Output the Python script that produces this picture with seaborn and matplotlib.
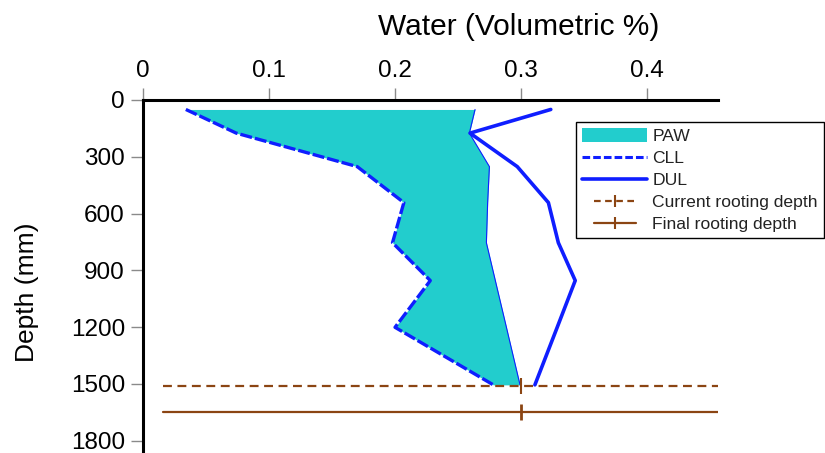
import matplotlib
matplotlib.use("Agg")
import matplotlib.pyplot as plt
from matplotlib.lines import Line2D
from matplotlib.patches import Patch
from matplotlib.legend_handler import HandlerLine2D
import seaborn as sns

# Soil layer depths (mm) and water contents (volumetric fraction)
depth = [50, 175, 352, 542, 754, 954, 1201, 1505]
cll = [0.034, 0.074, 0.170, 0.207, 0.198, 0.228, 0.200, 0.278]
dul = [0.3236, 0.2595, 0.297, 0.3217, 0.3296, 0.343, 0.3287, 0.311]
sw = [0.2635, 0.259, 0.2749, 0.2735, 0.2725, 0.2796, 0.2884, 0.2992]

# Rooting depths (mm) and where their lines run across the profile
current_root_depth = 1510
final_root_depth = 1650
root_line_x = [0.016, 0.4563]
root_marker_x = 0.3

xticks = [0, 0.1, 0.2, 0.3, 0.4]
xtick_labels = ["0", "0.1", "0.2", "0.3", "0.4"]
yticks = [0, 300, 600, 900, 1200, 1500, 1800]

TEAL = "#22CDCD"
BLUE = "#0F1EFF"
BROWN = "#8B4513"

sns.set_theme(style="white")
plt.rcParams["font.family"] = ["Liberation Sans", "DejaVu Sans"]

fig = plt.figure(figsize=(8.25, 4.53), dpi=100)
ax = fig.add_axes([143 / 825, 0.0, 575 / 825, 353 / 453])

# Plant available water: area between crop lower limit and soil water
ax.fill_betweenx(depth, cll, sw, color=TEAL, linewidth=0, zorder=1)
sns.lineplot(x=sw, y=depth, sort=False, estimator=None, color=BLUE,
             linewidth=0.8, ax=ax, zorder=2)
sns.lineplot(x=cll, y=depth, sort=False, estimator=None, color=BLUE,
             linewidth=2.4, linestyle=(0, (3.6, 0.9)), ax=ax, zorder=3)
sns.lineplot(x=dul, y=depth, sort=False, estimator=None, color=BLUE,
             linewidth=2.6, ax=ax, zorder=3)

# Rooting depth lines with a tick mark
sns.lineplot(x=root_line_x, y=[current_root_depth] * 2, color=BROWN,
             linewidth=1.6, linestyle=(0, (4, 2.5)), ax=ax, zorder=4)
sns.lineplot(x=root_line_x, y=[final_root_depth] * 2, color=BROWN,
             linewidth=1.6, ax=ax, zorder=4)
ax.plot([root_marker_x], [current_root_depth], marker="|", markersize=11,
        markeredgewidth=1.5, color=BROWN, linestyle="none", zorder=4)
ax.plot([root_marker_x], [final_root_depth], marker="|", markersize=11,
        markeredgewidth=2, color=BROWN, linestyle="none", zorder=4)

ax.set_xlim(0, 0.4563)
ax.set_ylim(1865, 0)

ax.xaxis.tick_top()
ax.xaxis.set_label_position("top")
ax.set_xticks(xticks)
ax.set_xticklabels(xtick_labels)
ax.set_yticks(yticks)
ax.tick_params(axis="both", which="major", length=9, width=1, color="#8a8a8a",
               labelsize=17.5, labelcolor="black", pad=4)
ax.tick_params(axis="x", top=True, bottom=False)
ax.tick_params(axis="y", left=True, right=False)

for side in ["right", "bottom"]:
    ax.spines[side].set_visible(False)
for side in ["top", "left"]:
    ax.spines[side].set_visible(True)
    ax.spines[side].set_color("black")
    ax.spines[side].set_linewidth(2.2)

ax.set_xlabel("Water (Volumetric %)", fontsize=21.5, color="black")
ax.set_ylabel("Depth (mm)", fontsize=19, color="black")
ax.xaxis.label.set_va("center")
ax.yaxis.label.set_va("center")
ax.xaxis.set_label_coords(0.654, 1.0 + 73 / 353)
ax.yaxis.set_label_coords(-0.2017, 0.456)


class InsetLine(HandlerLine2D):
    """Legend line drawn shorter than the full handle length."""

    def __init__(self, inset, **kw):
        super().__init__(**kw)
        self.inset = inset

    def get_xdata(self, legend, xdescent, ydescent, width, height, fontsize):
        xdata, xmark = super().get_xdata(legend, xdescent, ydescent, width,
                                         height, fontsize)
        pad = self.inset * fontsize
        return [xdata[0] + pad, xdata[-1] - pad], xmark


h_paw = Patch(facecolor=TEAL, edgecolor="none")
h_cll = Line2D([], [], color=BLUE, linewidth=2.2, linestyle=(0, (2.5, 1)))
h_dul = Line2D([], [], color=BLUE, linewidth=2.6)
h_cur = Line2D([], [], color=BROWN, linewidth=1.6, linestyle=(0, (3, 2)),
               marker="|", markersize=9, markeredgewidth=1.5)
h_fin = Line2D([], [], color=BROWN, linewidth=1.6, marker="|",
               markersize=9, markeredgewidth=1.5)

leg = ax.legend(
    [h_paw, h_cll, h_dul, h_cur, h_fin],
    ["PAW", "CLL", "DUL", "Current rooting depth", "Final rooting depth"],
    loc="upper left", bbox_to_anchor=(576 / 825, 1 - 122 / 453),
    bbox_transform=fig.transFigure, fontsize=12.6, frameon=True,
    fancybox=False, shadow=False, framealpha=1, edgecolor="black",
    borderpad=0.35, labelspacing=0.36, handlelength=3.7, handleheight=0.8,
    handletextpad=0.3, borderaxespad=0,
    handler_map={h_cur: InsetLine(0.65), h_fin: InsetLine(0.65)},
)
leg.get_frame().set_linewidth(1.0)
for t in leg.get_texts():
    t.set_color("#222222")

fig.savefig("out.png", dpi=100)
